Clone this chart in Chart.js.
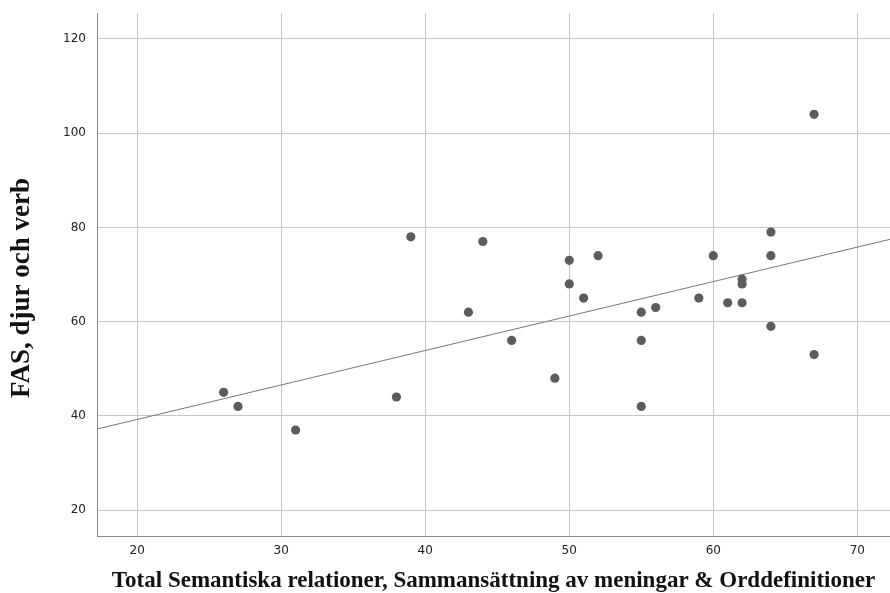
<!DOCTYPE html>
<html>
<head>
<meta charset="utf-8">
<script src="https://cdn.jsdelivr.net/npm/chart.js@4"></script>
<style>
  html, body { margin: 0; padding: 0; background: #fff; }
  #wrap { width: 890px; height: 593px; }
</style>
</head>
<body>
<div id="wrap"><canvas id="c" width="890" height="593"></canvas></div>
<script>
// ---- data ----
const xValues = [26, 27, 31, 38, 39, 43, 44, 46, 49, 50, 50, 51, 52, 55, 55, 55, 56, 59, 60, 61, 62, 62, 62, 64, 64, 64, 67, 67];
const yValues = [45, 42, 37, 44, 78, 62, 77, 56, 48, 73, 68, 65, 74, 62, 56, 42, 63, 65, 74, 64, 69, 68, 64, 79, 74, 59, 104, 53];
const xTicks = [20, 30, 40, 50, 60, 70];
const yTicks = [20, 40, 60, 80, 100, 120];
const xRange = [17.21, 72.27];
const yRange = [14.5, 125.5];
const fitIntercept = 24.61;
const fitSlope = 0.7314;
const xTitle = 'Total Semantiska relationer, Sammansättning av meningar & Orddefinitioner';
const yTitle = 'FAS, djur och verb';

const points = xValues.map((x, i) => ({ x: x, y: yValues[i] }));
const fitLine = xRange.map(x => ({ x: x, y: fitIntercept + fitSlope * x }));

function zeroPad(s) { s.paddingTop = 0; s.paddingBottom = 0; s.paddingLeft = 0; s.paddingRight = 0; }

new Chart(document.getElementById('c'), {
  type: 'scatter',
  data: {
    datasets: [
      {
        type: 'line',
        data: fitLine,
        borderColor: '#777777',
        borderWidth: 1,
        pointRadius: 0,
        fill: false,
        order: 2
      },
      {
        data: points,
        backgroundColor: '#5c5c5c',
        borderColor: '#5c5c5c',
        borderWidth: 0,
        pointRadius: 4.6,
        order: 1
      }
    ]
  },
  options: {
    responsive: false,
    animation: false,
    devicePixelRatio: 1,
    layout: { autoPadding: false, padding: { left: 0, top: 13, right: 0, bottom: 0 } },
    plugins: { legend: { display: false }, tooltip: { enabled: false } },
    scales: {
      x: {
        type: 'linear',
        min: xRange[0],
        max: xRange[1],
        afterBuildTicks: s => { s.ticks = xTicks.map(v => ({ value: v })); },
        afterFit: s => { s.height = 57; zeroPad(s); },
        grid: { color: '#c6c6c6', lineWidth: 1, drawTicks: false },
        border: { color: '#8a8a8a', width: 1 },
        ticks: {
          color: '#222',
          font: { family: 'DejaVu Sans', size: 12 },
          padding: 8,
          maxRotation: 0
        },
        title: {
          display: true,
          text: xTitle,
          color: '#111',
          font: { family: 'Liberation Serif', size: 23, weight: 'bold', lineHeight: 1.0 },
          padding: { top: 5, bottom: 0 }
        }
      },
      y: {
        type: 'linear',
        min: yRange[0],
        max: yRange[1],
        afterBuildTicks: s => { s.ticks = yTicks.map(v => ({ value: v })); },
        afterFit: s => { s.width = 97; zeroPad(s); },
        grid: { color: '#c6c6c6', lineWidth: 1, drawTicks: false },
        border: { color: '#8a8a8a', width: 1 },
        ticks: {
          color: '#222',
          font: { family: 'DejaVu Sans', size: 12 },
          padding: 11
        },
        title: {
          display: true,
          text: yTitle + '    ',
          color: '#111',
          font: { family: 'Liberation Serif', size: 27, weight: 'bold', lineHeight: 1.0 },
          padding: { top: 9, bottom: 0 }
        }
      }
    }
  }
});
</script>
</body>
</html>
